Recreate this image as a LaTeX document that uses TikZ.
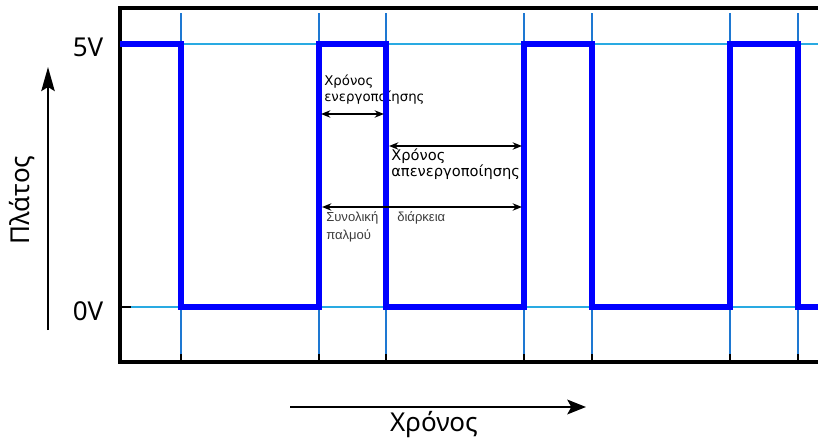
\documentclass[tikz,border=0pt]{standalone}
\usepackage{fontspec}
\setmainfont{Noto Sans}
\newfontfamily\annfont{DejaVu Sans}
\newfontfamily\narrowfont{Liberation Sans}
\usetikzlibrary{arrows.meta}
\definecolor{sigblue}{RGB}{0,0,255}
\definecolor{hblue}{RGB}{41,170,226}
\definecolor{vblue}{RGB}{30,120,210}
\definecolor{anngray}{RGB}{60,60,60}
\begin{document}
\begin{tikzpicture}[x=0.75pt,y=-0.75pt,
  frame/.style={black,line width=2.4pt},
  tickmark/.style={black,line width=2.2pt},
  hgrid/.style={hblue,line width=1pt},
  vgrid/.style={vblue,line width=1pt},
  signal/.style={sigblue,line width=4pt,line join=miter},
  yarrow/.style={black,line width=1.8pt,-{Stealth[length=18pt,width=10pt,inset=3pt]}},
  xarrow/.style={black,line width=1.8pt,-{Stealth[length=14pt,width=11pt,inset=3pt]}},
  dim/.style={black,line width=1.3pt,{Stealth[length=7pt,width=5.5pt]}-{Stealth[length=7pt,width=5.5pt]}},
  biglabel/.style={font=\fontsize{19.5}{22}\selectfont,inner sep=0pt},
  ann/.style={font=\annfont\fontsize{10}{12}\selectfont,inner sep=0pt,align=left,anchor=north west},
  annB/.style={font=\annfont\fontsize{11}{12.5}\selectfont,inner sep=0pt,align=left,anchor=north west},
  annC/.style={font=\narrowfont\fontsize{9.8}{13.5}\selectfont,text=anngray,inner sep=0pt,align=left,anchor=north west}]
\useasboundingbox (0,0) rectangle (818,437);
% annotation texts (under the signal)
\node[ann] (ton) at (324,75) {Χρόνος\\ενεργοποίησης};
\node[annB] (toff) at (391,148) {Χρόνος\\απενεργοποίησης};
\node[annC] (tot1) at (326,211) {Συνολική\\παλμού};
\node[annC] (tot2) at (397,211) {διάρκεια};
% grid
\foreach \x in {181,319,386,524,592,730,798}{
  \draw[vgrid] (\x,13) -- (\x,356);
  \draw[tickmark] (\x,354) -- (\x,362);
}
\draw[hgrid] (120,44) -- (818,44);
\draw[hgrid] (120,307) -- (818,307);
% frame
\draw[frame] (818,8) -- (120,8) -- (120,362) -- (818,362);
\draw[tickmark] (120,307) -- (131,307);
% signal
\draw[signal] (120,44) -- (181,44) -- (181,307) -- (319,307) -- (319,44) -- (386,44)
  -- (386,307) -- (524,307) -- (524,44) -- (592,44) -- (592,307) -- (730,307)
  -- (730,44) -- (798,44) -- (798,307) -- (818,307);
% dimension arrows
\coordinate (a1) at (321,114); \coordinate (a2) at (384,114);
\draw[dim] (a1) -- (a2);
\coordinate (b1) at (389,146); \coordinate (b2) at (522,146);
\draw[dim] (b1) -- (b2);
\coordinate (c1) at (322,207); \coordinate (c2) at (522,207);
\draw[dim] (c1) -- (c2);
% axes labels
\node[biglabel] (v5) at (88,47) {5V};
\node[biglabel] (v0) at (88,311) {0V};
\coordinate (ya) at (48,330); \coordinate (yb) at (48,67);
\draw[yarrow] (ya) -- (yb);
\node[biglabel,rotate=90] (amp) at (22,200) {Πλάτος};
\coordinate (xa) at (290,407); \coordinate (xb) at (586,407);
\draw[xarrow] (xa) -- (xb);
\node[biglabel,anchor=base] (time) at (434,431) {Χρόνος};
\end{tikzpicture}
\end{document}
